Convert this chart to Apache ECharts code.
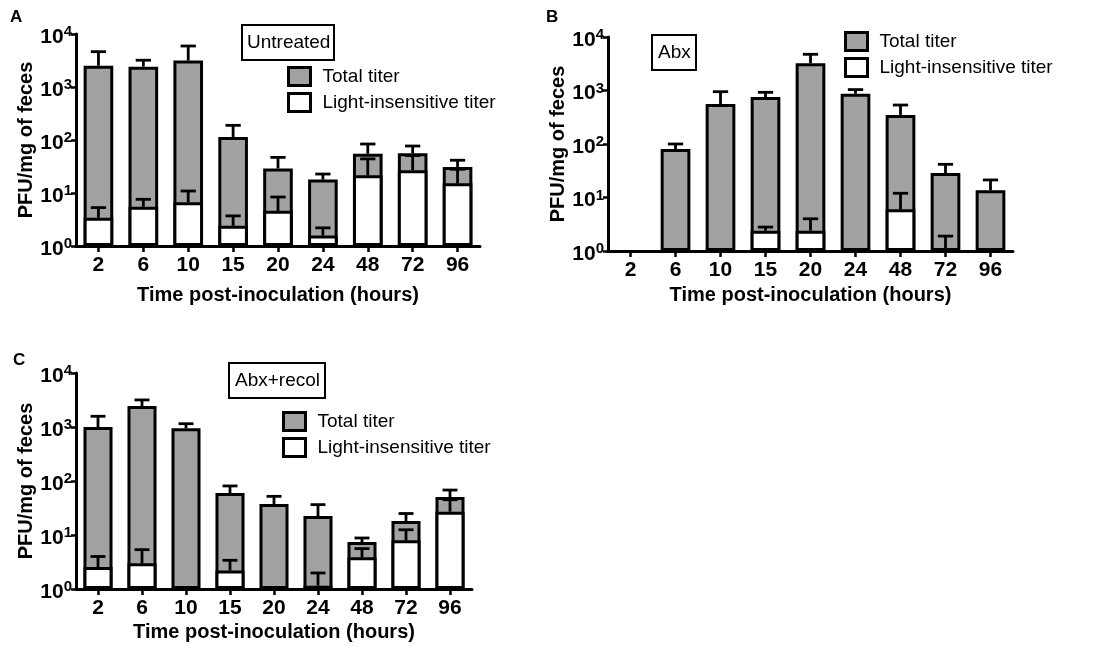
<!DOCTYPE html>
<html>
<head>
<meta charset="utf-8">
<script src="https://cdn.jsdelivr.net/npm/echarts@6/dist/echarts.min.js"></script>
<style>
html,body{margin:0;padding:0;background:#fff;}
#chart{width:1093px;height:648px;}
</style>
</head>
<body>
<div id="chart"></div>
<script>
// ---------- data ----------
const categories = ['2','6','10','15','20','24','48','72','96'];
const yTickValues = [1, 10, 100, 1000, 10000];

const A_total    = [2520, 2420, 3150, 114, 29, 17.9, 55, 56, 31];
const A_totalErr = [4640, 3200, 5940, 189, 47, 22.8, 84, 77, 41.5];
const A_light    = [3.4, 5.5, 6.7, 2.4, 4.6, 1.57, 21.6, 27, 15.2];
const A_lightErr = [5.3, 7.6, 10.9, 3.7, 8.4, 2.2, 44, 51, 28];

const B_total    = [null, 80.5, 560, 755, 3220, 870, 350, 28.7, 13.6];
const B_totalErr = [null, 100, 950, 925, 4750, 1040, 535, 41.7, 21.3];
const B_light    = [null, null, null, 2.4, 2.4, null, 6.0, 1.06, null];
const B_lightErr = [null, null, null, 2.8, 4.0, null, 12, 1.9, null];

const C_total    = [1000, 2450, 945, 60, 37.5, 22.5, 7.4, 18.2, 50.5];
const C_totalErr = [1580, 3170, 1150, 81, 52, 36.5, 8.8, 25, 68];
const C_light    = [2.55, 3.0, null, 2.2, null, 1.15, 3.86, 7.96, 27];
const C_lightErr = [4.0, 5.35, null, 3.4, null, 1.98, 5.6, 12.5, 45];

const panels = [
  {letter:'A', box:'Untreated',  total:A_total, totalErr:A_totalErr, light:A_light, lightErr:A_lightErr},
  {letter:'B', box:'Abx',        total:B_total, totalErr:B_totalErr, light:B_light, lightErr:B_lightErr},
  {letter:'C', box:'Abx+recol',  total:C_total, totalErr:C_totalErr, light:C_light, lightErr:C_lightErr}
];

// ---------- layout (styles/positions) ----------
const FONT = 'Liberation Sans, Arial, Helvetica, sans-serif';
const GRAY = '#a2a2a2';
const layout = [
  {grid:{left:76, top:34, width:404, height:212}, letter:{left:10, top:9},
   box:{left:242, top:25, padding:[8,4,7,5]}, legend:{left:287, top:66}, xNameGap:39},
  {grid:{left:608, top:37, width:405, height:214}, letter:{left:546, top:9},
   box:{left:652, top:35, padding:[8,6,7,6]}, legend:{left:844, top:31}, xNameGap:34},
  {grid:{left:76, top:373, width:396, height:216}, letter:{left:13, top:352},
   box:{left:229, top:363, padding:[8,5,7,6]}, legend:{left:282, top:411}, xNameGap:33}
];

function errRender(params, api) {
  const idx = api.value(0), lo = api.value(1), hi = api.value(2);
  const p1 = api.coord([idx, lo]);
  const p2 = api.coord([idx, hi]);
  const band = Math.abs(api.coord([1, 1])[0] - api.coord([0, 1])[0]);
  const w = band * 0.17;
  const st = {stroke:'#000', lineWidth:2.8};
  return {type:'group', children:[
    {type:'line', shape:{x1:p1[0], y1:p1[1], x2:p2[0], y2:p2[1]}, style:st},
    {type:'line', shape:{x1:p1[0]-w, y1:p2[1], x2:p1[0]+w, y2:p2[1]}, style:st}
  ]};
}
function errData(vals, errs) {
  const out = [];
  vals.forEach((v, i) => { if (v != null && errs[i] != null) out.push([i, v, errs[i]]); });
  return out;
}

const option = {
  backgroundColor:'#fff',
  animation:false,
  title:[], grid:[], xAxis:[], yAxis:[], legend:[], series:[]
};

panels.forEach((p, k) => {
  const L = layout[k];
  option.grid.push(Object.assign({outerBoundsMode:'none', containLabel:false}, L.grid));
  option.title.push({text:p.letter, left:L.letter.left, top:L.letter.top, padding:0,
    textStyle:{fontFamily:FONT, fontWeight:'bold', fontSize:17, color:'#000'}});
  option.title.push({text:p.box, left:L.box.left, top:L.box.top, padding:L.box.padding,
    borderColor:'#000', borderWidth:2,
    textStyle:{fontFamily:FONT, fontWeight:'normal', fontSize:19, color:'#000', lineHeight:20}});
  option.legend.push({
    orient:'vertical', left:L.legend.left, top:L.legend.top,
    data:['Total titer','Light-insensitive titer'],
    itemWidth:22, itemHeight:18, itemGap:5, icon:'rect', padding:0,
    itemStyle:{borderColor:'#000', borderWidth:3},
    textStyle:{fontFamily:FONT, fontSize:19, color:'#000', padding:[0,0,0,7], lineHeight:21},
    selectedMode:false
  });
  option.xAxis.push({
    type:'category', gridIndex:k, data:categories,
    name:'Time post-inoculation (hours)', nameLocation:'middle', nameGap:L.xNameGap,
    nameTextStyle:{fontFamily:FONT, fontWeight:'bold', fontSize:20, color:'#000'},
    axisLine:{show:true, lineStyle:{color:'#000', width:3}},
    axisTick:{show:true, alignWithLabel:true, length:6, lineStyle:{color:'#000', width:2.5}},
    axisLabel:{fontFamily:FONT, fontWeight:'bold', fontSize:21, color:'#000', margin:9, interval:0},
    splitLine:{show:false}
  });
  option.yAxis.push({
    type:'log', logBase:10, gridIndex:k, min:yTickValues[0], max:yTickValues[yTickValues.length-1],
    name:'PFU/mg of feces', nameLocation:'middle', nameGap:37, nameRotate:90,
    nameTextStyle:{fontFamily:FONT, fontWeight:'bold', fontSize:20, color:'#000'},
    axisLine:{show:true, lineStyle:{color:'#000', width:3}},
    axisTick:{show:true, length:5, lineStyle:{color:'#000', width:2.5}},
    minorTick:{show:false}, splitLine:{show:false},
    axisLabel:{
      margin:4, padding:[6,0,0,0],
      formatter:(v) => '{b|10}{s|' + Math.round(Math.log10(v)) + '}',
      rich:{
        b:{fontFamily:FONT, fontWeight:'bold', fontSize:21, color:'#000', lineHeight:21, verticalAlign:'bottom'},
        s:{fontFamily:FONT, fontWeight:'bold', fontSize:15, color:'#000', lineHeight:15, verticalAlign:'bottom', padding:[0,0,8,0]}
      }
    }
  });
  option.series.push({
    name:'Total titer', type:'bar', xAxisIndex:k, yAxisIndex:k, data:p.total,
    barWidth:'66%', barGap:'-100%', z:2,
    itemStyle:{color:GRAY, borderColor:'#000', borderWidth:3}
  });
  option.series.push({
    name:'total-err', type:'custom', xAxisIndex:k, yAxisIndex:k, z:3,
    renderItem:errRender, encode:{x:0, y:[1,2]}, data:errData(p.total, p.totalErr), silent:true
  });
  option.series.push({
    name:'Light-insensitive titer', type:'bar', xAxisIndex:k, yAxisIndex:k, data:p.light,
    barWidth:'66%', barGap:'-100%', z:4,
    itemStyle:{color:'#fff', borderColor:'#000', borderWidth:3}
  });
  option.series.push({
    name:'light-err', type:'custom', xAxisIndex:k, yAxisIndex:k, z:5,
    renderItem:errRender, encode:{x:0, y:[1,2]}, data:errData(p.light, p.lightErr), silent:true
  });
});

const chart = echarts.init(document.getElementById('chart'), null, {renderer:'canvas'});
chart.setOption(option);
</script>
</body>
</html>
